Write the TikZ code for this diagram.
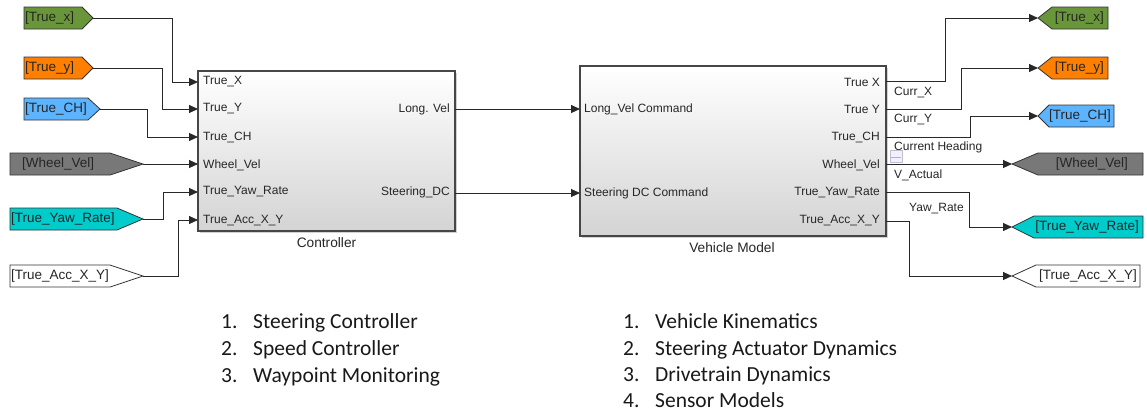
\documentclass[tikz,border=0pt]{standalone}
\usepackage{fontspec}
\setmainfont{Liberation Sans}
\newfontfamily\listfont{Carlito}
\usetikzlibrary{arrows.meta,shadows}
\definecolor{tgreen}{RGB}{106,150,58}
\definecolor{torange}{RGB}{255,128,0}
\definecolor{tblue}{RGB}{92,180,255}
\definecolor{tgray}{RGB}{120,120,120}
\definecolor{tcyan}{RGB}{0,204,204}
\definecolor{boxline}{RGB}{70,70,70}
\definecolor{sigline}{RGB}{40,40,40}
\tikzset{
  blk/.style={draw=boxline, line width=1.2pt, top color=white, bottom color=black!17,
    drop shadow={shadow xshift=2pt, shadow yshift=-2pt, opacity=0.35}},
  tag/.style={draw=black!80, line width=0.8pt},
  tagtxt/.style={inner sep=0pt, font=\fontsize{13.5}{15}\selectfont, text=black!85},
  port/.style={inner sep=0pt, font=\fontsize{12}{14}\selectfont, text=black!85},
  blabel/.style={inner sep=0pt, font=\fontsize{13.7}{16}\selectfont, text=black!85},
  sig/.style={draw=sigline, line width=0.9pt, -{Triangle[length=9pt,width=8pt]}},
  listtxt/.style={inner sep=0pt, anchor=base west, font=\listfont\fontsize{21.5}{26}\selectfont, text=black!90},
}
\begin{document}
\begin{tikzpicture}[x=1pt,y=-1pt]
\useasboundingbox (0,0) rectangle (1147,413);
\fill[white] (0,0) rectangle (1147,413);

% ---------- blocks ----------
\path[blk] (198,71) rectangle (455,231);
\node[blabel] (ctrllab) at (326.5,243) {Controller};
\path[blk] (580,66) rectangle (886,236);
\node[blabel] (vehlab) at (732,248) {Vehicle Model};

% controller ports
\coordinate (ci1) at (198,82);
\coordinate (ci2) at (198,109);
\coordinate (ci3) at (198,137);
\coordinate (ci4) at (198,164);
\coordinate (ci5) at (198,192);
\coordinate (ci6) at (198,220);
\coordinate (co1) at (455,109);
\coordinate (co2) at (455,193);
\node[port,anchor=west] (p1) at (203,82) {True\_X};
\node[port,anchor=west] (p2) at (203,109) {True\_Y};
\node[port,anchor=west] (p3) at (203,137) {True\_CH};
\node[port,anchor=west] (p4) at (203,165) {Wheel\_Vel};
\node[port,anchor=west] (p5) at (203,192) {True\_Yaw\_Rate};
\node[port,anchor=west] (p6) at (203,221) {True\_Acc\_X\_Y};
\node[port,anchor=east] (p7) at (450,109) {Long. Vel};
\node[port,anchor=east] (p8) at (450,192) {Steering\_DC};

% vehicle ports
\coordinate (vi1) at (580,109);
\coordinate (vi2) at (580,193);
\coordinate (vo1) at (886,81);
\coordinate (vo2) at (886,109);
\coordinate (vo3) at (886,137);
\coordinate (vo4) at (886,164);
\coordinate (vo5) at (886,192);
\coordinate (vo6) at (886,221);
\node[port,anchor=west] (q1) at (584,109) {Long\_Vel Command};
\node[port,anchor=west] (q2) at (584,193) {Steering DC Command};
\node[port,anchor=east] (q3) at (880,82) {True X};
\node[port,anchor=east] (q4) at (880,109) {True Y};
\node[port,anchor=east] (q5) at (880,137) {True\_CH};
\node[port,anchor=east] (q6) at (880,165) {Wheel\_Vel};
\node[port,anchor=east] (q7) at (880,193) {True\_Yaw\_Rate};
\node[port,anchor=east] (q8) at (880,221) {True\_Acc\_X\_Y};

% ---------- left "From" tags ----------
\path[tag,fill=tgreen] (24,7) -- (82,7) -- (93,18) -- (82,29) -- (24,29) -- cycle;
\node[tagtxt,anchor=west] (lt1) at (25,18) {[True\_x]};
\coordinate (L1) at (93,18);
\path[tag,fill=torange] (24,57) -- (82,57) -- (93,68) -- (82,79) -- (24,79) -- cycle;
\node[tagtxt,anchor=west] (lt2) at (25,68) {[True\_y]};
\coordinate (L2) at (93,68);
\path[tag,fill=tblue] (24,98) -- (88,98) -- (100,109) -- (88,120) -- (24,120) -- cycle;
\node[tagtxt,anchor=west] (lt3) at (25,109) {[True\_CH]};
\coordinate (L3) at (100,109);
\path[tag,fill=tgray] (10,153) -- (110,153) -- (143,164) -- (110,175) -- (10,175) -- cycle;
\node[tagtxt,anchor=west] (lt4) at (22,164) {[Wheel\_Vel]};
\coordinate (L4) at (143,164);
\path[tag,fill=tcyan] (10,208) -- (117,208) -- (143,219) -- (117,230) -- (10,230) -- cycle;
\node[tagtxt,anchor=west] (lt5) at (11,219) {[True\_Yaw\_Rate]};
\coordinate (L5) at (143,219);
\path[tag,fill=white] (10,265) -- (110,265) -- (143,276) -- (110,287) -- (10,287) -- cycle;
\node[tagtxt,anchor=west] (lt6) at (11,276) {[True\_Acc\_X\_Y]};
\coordinate (L6) at (143,276);

% ---------- right "Goto" tags ----------
\path[tag,fill=tgreen] (1038,18) -- (1052,7) -- (1108,7) -- (1108,29) -- (1052,29) -- cycle;
\node[tagtxt,anchor=east] (rt1) at (1104,18) {[True\_x]};
\coordinate (R1) at (1038,18);
\path[tag,fill=torange] (1038,68) -- (1052,57) -- (1108,57) -- (1108,79) -- (1052,79) -- cycle;
\node[tagtxt,anchor=east] (rt2) at (1104,68) {[True\_y]};
\coordinate (R2) at (1038,68);
\path[tag,fill=tblue] (1038,116) -- (1049,105) -- (1114,105) -- (1114,127) -- (1049,127) -- cycle;
\node[tagtxt,anchor=east] (rt3) at (1111,116) {[True\_CH]};
\coordinate (R3) at (1038,116);
\path[tag,fill=tgray] (1012,164) -- (1038,153) -- (1143,153) -- (1143,175) -- (1038,175) -- cycle;
\node[tagtxt,anchor=east] (rt4) at (1128,164) {[Wheel\_Vel]};
\coordinate (R4) at (1012,164);
\path[tag,fill=tcyan] (1012,227) -- (1034,216) -- (1143,216) -- (1143,238) -- (1034,238) -- cycle;
\node[tagtxt,anchor=east] (rt5) at (1139,227) {[True\_Yaw\_Rate]};
\coordinate (R5) at (1012,227);
\path[tag,fill=white] (1012,276) -- (1036,265) -- (1140,265) -- (1140,287) -- (1036,287) -- cycle;
\node[tagtxt,anchor=east] (rt6) at (1137,276) {[True\_Acc\_X\_Y]};
\coordinate (R6) at (1012,276);

% ---------- connectors ----------
\draw[sig] (L1) -- (172,18) |- (ci1);
\draw[sig] (L2) -- (162,68) |- (ci2);
\draw[sig] (L3) -- (147,109) |- (ci3);
\draw[sig] (L4) -- (ci4);
\draw[sig] (L5) -- (163,219) |- (ci5);
\draw[sig] (L6) -- (178,276) |- (ci6);

\draw[sig] (co1) -- (vi1);
\draw[sig] (co2) -- (vi2);

\draw[sig] (vo1) -- (945,81) |- (R1);
\draw[sig] (vo2) -- (961,109) |- (R2);
\draw[sig] (vo3) -- (970,137) |- (R3);
\draw[sig] (vo4) -- (R4);
\draw[sig] (vo5) -- (969,192) |- (R5);
\draw[sig] (vo6) -- (909,221) |- (R6);

% signal labels
\node[port,anchor=west] (s1) at (894,92) {Curr\_X};
\node[port,anchor=west] (s2) at (894,119) {Curr\_Y};
\node[port,anchor=west] (s3) at (894,147) {Current Heading};
\node[port,anchor=west] (s4) at (894,175) {V\_Actual};
\node[port,anchor=west] (s5) at (909,209) {Yaw\_Rate};

% logging icon
\draw[draw=blue!25!black!25, fill=blue!6, line width=0.6pt] (890,150) rectangle (902,162);
\draw[draw=blue!30!black!30, line width=0.6pt] (891,157) -- (901,157);

% ---------- lists ----------
\node[listtxt] (a1n) at (221,328) {1.};
\node[listtxt] (a1) at (253,328) {Steering Controller};
\node[listtxt] (a2n) at (221,355) {2.};
\node[listtxt] (a2) at (253,355) {Speed Controller};
\node[listtxt] (a3n) at (221,382) {3.};
\node[listtxt] (a3) at (253,382) {Waypoint Monitoring};

\node[listtxt] (b1n) at (623,328) {1.};
\node[listtxt] (b1) at (655,328) {Vehicle Kinematics};
\node[listtxt] (b2n) at (623,355) {2.};
\node[listtxt] (b2) at (655,355) {Steering Actuator Dynamics};
\node[listtxt] (b3n) at (623,381) {3.};
\node[listtxt] (b3) at (655,381) {Drivetrain Dynamics};
\node[listtxt] (b4n) at (623,407) {4.};
\node[listtxt] (b4) at (655,407) {Sensor Models};
\end{tikzpicture}
\end{document}
